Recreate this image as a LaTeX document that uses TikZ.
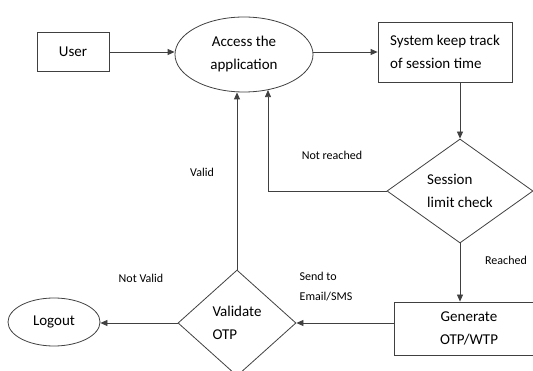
\documentclass[tikz,border=0pt]{standalone}
\usepackage{fontspec}
\setmainfont{Carlito}
\usetikzlibrary{shapes.geometric,arrows.meta}
\begin{document}
\begin{tikzpicture}[x=1pt, y=-1pt, line width=0.8pt,
    >={Triangle[length=7pt,width=6pt]},
    box/.style={draw=black!75, rectangle, inner sep=2pt,
      font=\fontsize{15}{23}\selectfont},
    oval/.style={draw=black!75, ellipse, inner sep=0pt,
      font=\fontsize{15}{23}\selectfont},
    choice/.style={draw=black!75, diamond, inner sep=0pt,
      font=\fontsize{15}{23}\selectfont},
    lbl/.style={font=\fontsize{12}{20}\selectfont, align=left},
    link/.style={draw=black!75, ->}]
  \useasboundingbox (0,0) rectangle (533,371);
  \node [box, minimum width=72pt, minimum height=39pt] (user) at (73,52) {User};
  \node [oval, minimum width=138pt, minimum height=75pt, align=center] (access) at (244,54.5)
    {Access the\\application};
  \node [box, minimum width=134pt, minimum height=60pt, align=left] (track) at (445,52)
    {System keep track\\of session time};
  \node [choice, minimum width=146pt, minimum height=104pt, align=left] (check) at (460,191)
    {Session\\limit check};
  \node [box, minimum width=150pt, minimum height=53pt, align=center] (generate) at (469,328.5)
    {Generate\\OTP/WTP};
  \node [choice, minimum width=118pt, minimum height=106pt, align=left] (validate) at (237,323)
    {Validate\\OTP};
  \node [oval, minimum width=92pt, minimum height=48pt] (logout) at (54,322) {Logout};
  % connectors
  \draw [link] (user.east) -- (user.east -| access.west);
  \draw [link] (track.west -| access.east) -- (track.west);
  \draw [link] (track.south -| check.north) -- (check.north);
  \draw [link] (check.west) -| (access.-56);
  \draw [link] (check.south) -- (check.south |- generate.north);
  \draw [link] (generate.west |- validate.east) -- (validate.east);
  \draw [link] (validate.north) -- (validate.north |- access.south);
  \draw [link] (validate.west) -- (validate.west -| logout.east);
  % labels
  \node [lbl] (notreached) at (332,155) {Not reached};
  \node [lbl] (valid)      at (202,172) {Valid};
  \node [lbl] (reached)    at (506,260) {Reached};
  \node [lbl] (send)       at (326,287) {Send to\\Email/SMS};
  \node [lbl] (notvalid)   at (141,278) {Not Valid};
\end{tikzpicture}
\end{document}
